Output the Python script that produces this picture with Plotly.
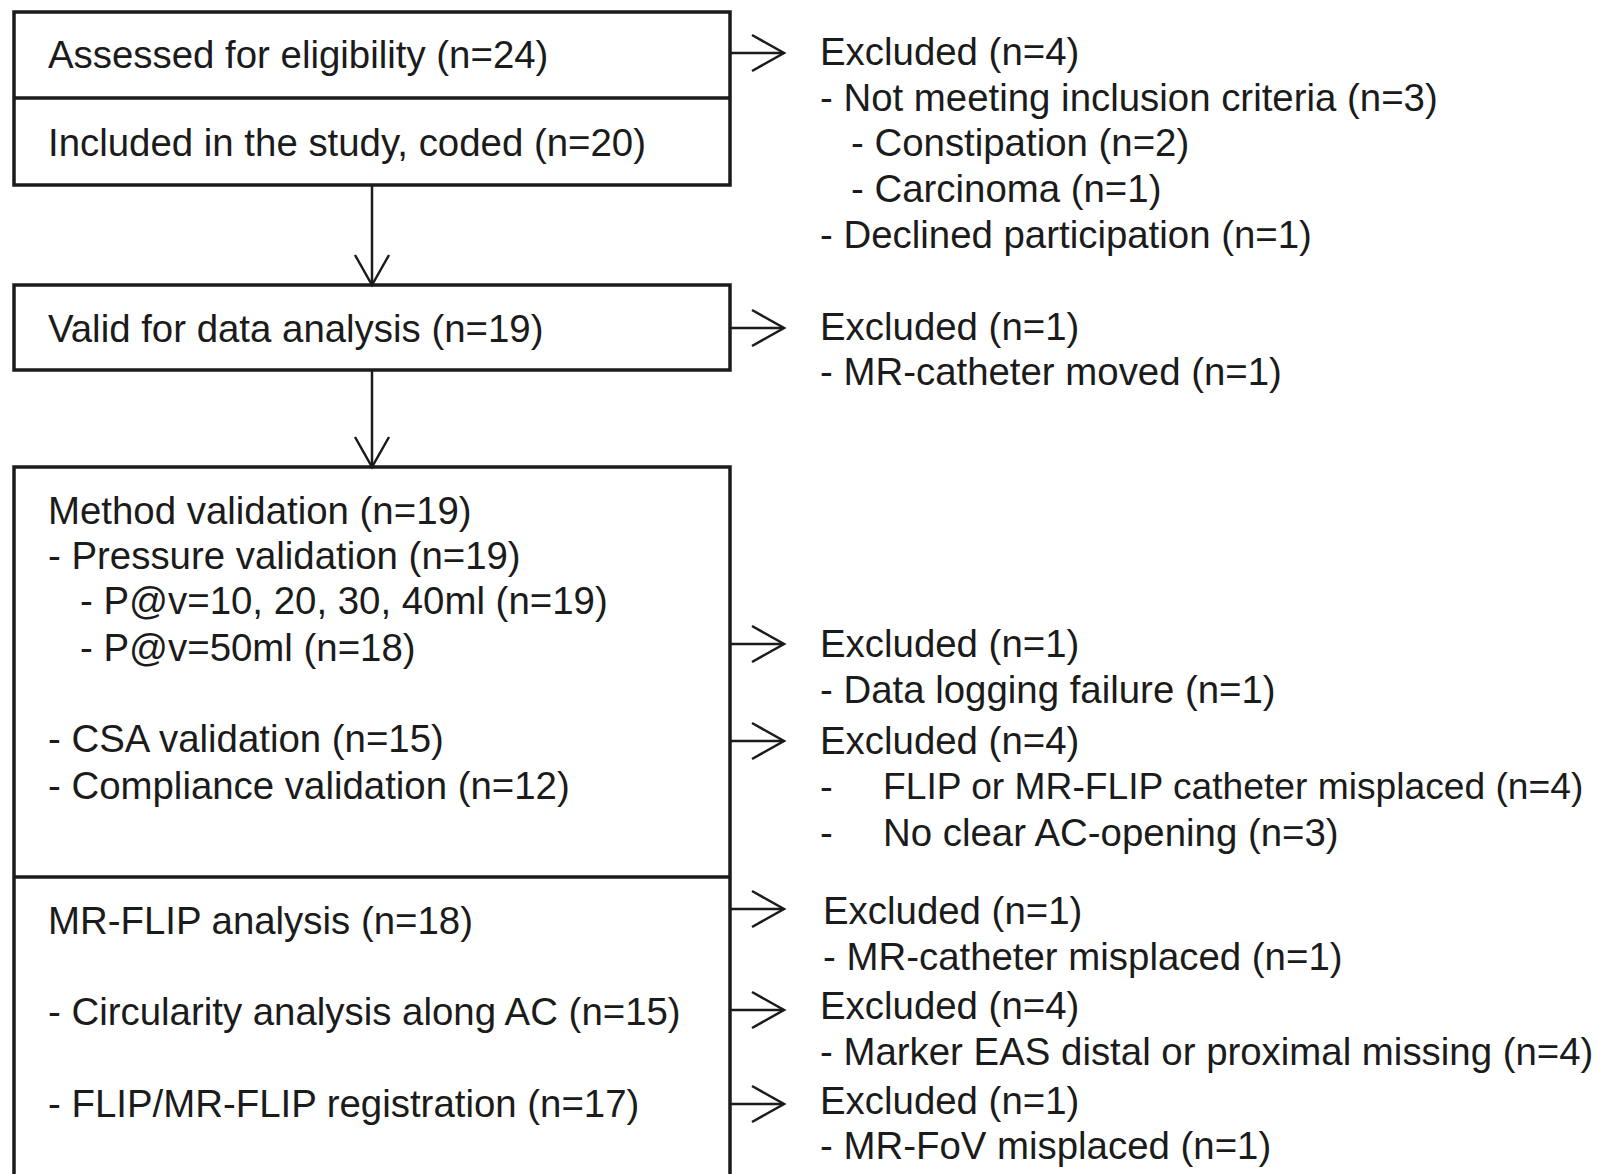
import plotly.graph_objects as go

# ---- text content ----
left_texts = [
    "Assessed for eligibility (n=24)",
    "Included in the study, coded (n=20)",
    "Valid for data analysis (n=19)",
    "Method validation (n=19)",
    "- Pressure validation (n=19)",
    "- P@v=10, 20, 30, 40ml (n=19)",
    "- P@v=50ml (n=18)",
    "- CSA validation (n=15)",
    "- Compliance validation (n=12)",
    "MR-FLIP analysis (n=18)",
    "- Circularity analysis along AC (n=15)",
    "- FLIP/MR-FLIP registration (n=17)",
]
right_texts = [
    "Excluded (n=4)",
    "- Not meeting inclusion criteria (n=3)",
    "- Constipation (n=2)",
    "- Carcinoma (n=1)",
    "- Declined participation (n=1)",
    "Excluded (n=1)",
    "- MR-catheter moved (n=1)",
    "Excluded (n=1)",
    "- Data logging failure (n=1)",
    "Excluded (n=4)",
    "-",
    "FLIP or MR-FLIP catheter misplaced (n=4)",
    "-",
    "No clear AC-opening (n=3)",
    "Excluded (n=1)",
    "- MR-catheter misplaced (n=1)",
    "Excluded (n=4)",
    "- Marker EAS distal or proximal missing (n=4)",
    "Excluded (n=1)",
    "- MR-FoV misplaced (n=1)",
]

# ---- layout (pixel coordinates of the page) ----
W, H = 1608, 1174
PAGE_MARGIN = 8  # default body margin of the html page
left_x = [46, 46, 46, 46, 46, 78, 78, 46, 46, 46, 46, 46]
left_y = [54, 142, 328, 510, 555, 600, 647, 738, 785, 920, 1011, 1103]
right_x = [818, 818, 849, 849, 818, 818, 818, 818, 818, 818,
           818, 881, 818, 881, 821, 821, 818, 818, 818, 818]
right_y = [51, 97, 142, 188, 234, 326, 371, 643, 689, 740,
           786, 786, 832, 832, 910, 956, 1005, 1051, 1100, 1145]

box_x0, box_x1 = 14, 730
boxes = [(12, 185), (285, 370), (467, 1200)]
dividers = [98, 877]
down_arrows = [(185, 285), (370, 467)]
down_x = 372
right_arrow_y = [53, 328, 644, 741, 909, 1010, 1104]
arrow_tip_x = 784

line_col = "#1b1b1b"
text_col = "#1b1b1b"
font_family = "Liberation Sans, Arial, sans-serif"
font_size = 38.4
long_line_font_size = 37.2  # the longest line is slightly narrower in the original

shapes = []
for (y0, y1) in boxes:
    shapes.append(dict(type="rect", xref="x", yref="y", x0=box_x0, x1=box_x1,
                       y0=y0, y1=y1, line=dict(color=line_col, width=3.5)))
for yd in dividers:
    shapes.append(dict(type="line", xref="x", yref="y", x0=box_x0, x1=box_x1,
                       y0=yd, y1=yd, line=dict(color=line_col, width=3.5)))
for (ys, ye) in down_arrows:
    shapes.append(dict(type="line", xref="x", yref="y", x0=down_x, x1=down_x,
                       y0=ys, y1=ye, line=dict(color=line_col, width=2.5)))
    shapes.append(dict(type="path", xref="x", yref="y",
                       path=f"M {down_x-17} {ye-30} L {down_x} {ye} L {down_x+17} {ye-30}",
                       line=dict(color=line_col, width=2.5)))
for ya in right_arrow_y:
    shapes.append(dict(type="line", xref="x", yref="y", x0=box_x1, x1=arrow_tip_x,
                       y0=ya, y1=ya, line=dict(color=line_col, width=2.5)))
    shapes.append(dict(type="path", xref="x", yref="y",
                       path=f"M {arrow_tip_x-32} {ya-18} L {arrow_tip_x} {ya} L {arrow_tip_x-32} {ya+18}",
                       line=dict(color=line_col, width=2.5)))

annotations = []
for t, x, y in zip(left_texts + right_texts, left_x + right_x, left_y + right_y):
    size = long_line_font_size if x + 0.0 > 870 and len(t) > 35 else font_size
    annotations.append(dict(text=t, x=x, y=y, xref="x", yref="y",
                            xanchor="left", yanchor="middle", showarrow=False,
                            font=dict(family=font_family, size=size, color=text_col)))

fig = go.Figure()
fig.add_trace(go.Scatter(x=[PAGE_MARGIN, W], y=[PAGE_MARGIN, H], mode="markers",
                         marker=dict(opacity=0), hoverinfo="skip", showlegend=False))
fig.update_layout(
    width=W - PAGE_MARGIN, height=H - PAGE_MARGIN, margin=dict(l=0, r=0, t=0, b=0),
    paper_bgcolor="white", plot_bgcolor="white",
    xaxis=dict(range=[PAGE_MARGIN, W], visible=False, fixedrange=True),
    yaxis=dict(range=[H, PAGE_MARGIN], visible=False, fixedrange=True),
    shapes=shapes, annotations=annotations, showlegend=False,
)
fig.write_html("out.html")
